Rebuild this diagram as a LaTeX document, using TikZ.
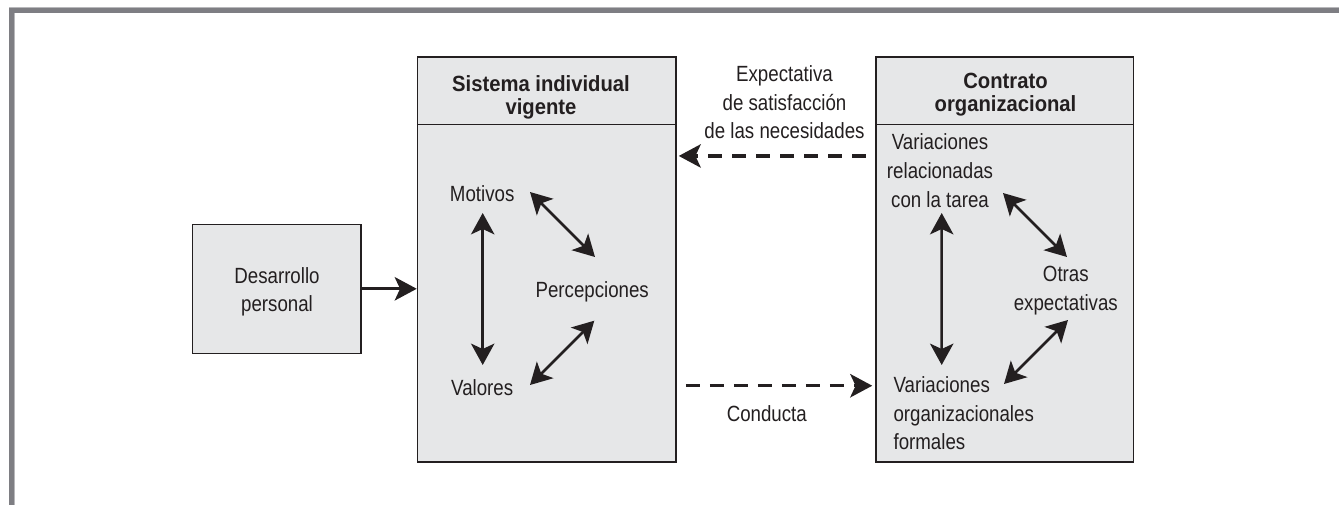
\documentclass[tikz,border=0pt]{standalone}
\usepackage{fontspec}
\setmainfont{Liberation Sans}[FakeStretch=0.85]
\newfontfamily\hdfont{Liberation Sans}[FakeStretch=0.92]
\usetikzlibrary{arrows.meta,calc}
\definecolor{ink}{HTML}{231F20}
\definecolor{boxfill}{HTML}{E6E7E8}
\definecolor{framedark}{HTML}{7E7E83}
\definecolor{framelight}{HTML}{B8B8BB}
\tikzset{
  panel/.style={draw=ink, line width=1.1pt, fill=boxfill, inner sep=0pt},
  divider/.style={draw=ink, line width=1.1pt},
  txt/.style={font=\fontsize{16.5}{21.5}\selectfont, text=ink, inner sep=0pt, align=center},
  hdr/.style={font=\hdfont\bfseries\fontsize{16.5}{17.3}\selectfont, text=ink, inner sep=0pt, align=center},
  solidarrow/.style={-{Stealth[length=16.5pt,width=17.5pt,inset=4pt]}, line width=2.4pt, draw=ink},
  dasharrow/.style={solidarrow, dash pattern=on 10.5pt off 7.5pt},
  dblarrow/.style={{Stealth[length=16pt,width=17.5pt,inset=4pt]}-{Stealth[length=16pt,width=17.5pt,inset=4pt]}, line width=1.9pt, draw=ink},
}
\begin{document}
\begin{tikzpicture}[x=0.75pt,y=-0.75pt]
\useasboundingbox (0,0) rectangle (1339,505);
% frame
\fill[framelight] (9,7) rectangle (1339,8);
\fill[framedark] (9,8) rectangle (1339,12.7);
\fill[framedark] (9,8) rectangle (14,505);
\fill[framelight] (14,12.7) rectangle (15.2,505);
% boxes
\node[panel, minimum width=126.2pt, minimum height=96.75pt] (desbox) at (276.85,288.8) {};
\node[panel, minimum width=193.9pt, minimum height=303.75pt] (sisbox) at (546.75,259.5) {};
\node[panel, minimum width=193pt, minimum height=303.75pt] (conbox) at (1004.65,259.5) {};
\draw[divider] ($(sisbox.north west)+(0,68)$) -- ($(sisbox.north east)+(0,68)$);
\draw[divider] ($(conbox.north west)+(0,68)$) -- ($(conbox.north east)+(0,68)$);
% texts
\node[txt] (desarrollo) at (277,291.8) {Desarrollo\\personal};
\node[hdr] (sistitle) at (541,97.2) {Sistema individual\\vigente};
\node[hdr] (contitle) at (1005.5,94.6) {Contrato\\organizacional};
\node[txt] (expect) at (784.5,102.4) {Expectativa\\de satisfacción\\de las necesidades};
\node[txt, anchor=base] (motivos) at (482.2,201.7) {Motivos};
\node[txt, anchor=base] (valores) at (482.2,395.7) {Valores};
\node[txt, anchor=base] (percep) at (592.2,297.7) {Percepciones};
\node[txt] (vartarea) at (940,170.7) {Variaciones\\relacionadas\\con la tarea};
\node[txt] (otras) at (1065.8,290.8) {Otras\\expectativas};
\node[txt, align=left, anchor=west] (varorg) at (893.3,413.3) {Variaciones\\organizacionales\\formales};
\node[txt, anchor=base] (conducta) at (766.8,421.7) {Conducta};
% connectors
\draw[solidarrow] (desbox.east) -- (desbox.east -| sisbox.west);
\draw[dasharrow] ($(conbox.north west)+(-9.3,99.7)$) -- ($(sisbox.north east)+(2,99.7)$);
\draw[dasharrow] ($(sisbox.south east)+(9,-77)$) -- ($(conbox.south west)+(-3,-77)$);
\draw[dblarrow] ($(motivos.base)+(0.5,11.3)$) -- ($(valores.base)+(0.5,-30.7)$);
\draw[dblarrow] ($(motivos.base)+(47.8,-9.7)$) -- ($(percep.base)+(2.8,-40.7)$);
\draw[dblarrow] ($(valores.base)+(47.8,-10.7)$) -- ($(percep.base)+(2.1,23)$);
\draw[dblarrow] ($(vartarea.center)+(1.7,42.3)$) -- ($(varorg.west)+(48.4,-48.3)$);
\draw[dblarrow] ($(vartarea.center)+(63,22.3)$) -- ($(otras.center)+(1.2,-33.8)$);
\draw[dblarrow] ($(varorg.west)+(110.7,-29.3)$) -- ($(otras.center)+(2.2,29.2)$);
\end{tikzpicture}
\end{document}
